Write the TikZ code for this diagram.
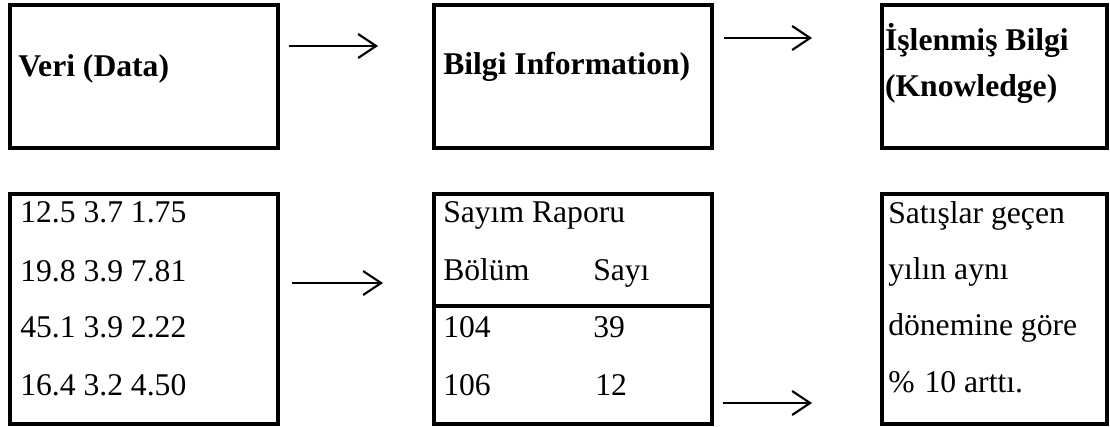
\documentclass[tikz,border=0pt]{standalone}
\usepackage{fontspec}
\setmainfont{Liberation Serif}
\usetikzlibrary{arrows.meta}

\begin{document}
\begin{tikzpicture}[
		kutu/.style={draw, line width=2.5pt, inner sep=0pt, anchor=north west},
		yazi/.style={inner sep=0pt, anchor=base west, font=\fontsize{22.5}{27}\selectfont},
		okcizgi/.style={line width=1.5pt, -{Straight Barb[length=0.45cm, width=0.6cm, line width=1.5pt]}}
	]
		
		\useasboundingbox (0,0) rectangle (27.75,-10.65);
		
		% ust sira
		\node[kutu, minimum width=6.7cm, minimum height=3.575cm] (veri) at (0.2,-0.075) {};
		\node[kutu, minimum width=6.95cm, minimum height=3.575cm] (bilgi) at (10.8,-0.075) {};
		\node[kutu, minimum width=5.625cm, minimum height=3.575cm] (islenmis) at (22.0,-0.075) {};
		
		\node[yazi] (veriad) at (0.45,-1.9) {\textbf{Veri (Data)}};
		\node[yazi] (bilgiad) at (11.075,-1.85) {\textbf{Bilgi Information)}};
		\node[yazi] (islenmisad1) at (22.12,-1.25) {\textbf{İşlenmiş Bilgi}};
		\node[yazi] (islenmisad2) at (22.12,-2.42) {\textbf{(Knowledge)}};
		
		% alt sira
		\node[kutu, minimum width=6.7cm, minimum height=5.75cm] (sayilar) at (0.2,-4.8) {};
		\node[kutu, minimum width=6.95cm, minimum height=5.75cm] (rapor) at (10.8,-4.8) {};
		\node[kutu, minimum width=5.625cm, minimum height=5.75cm] (sonuc) at (22.0,-4.8) {};
		
		\coordinate (ayracsol) at (10.8,-7.65);
		\coordinate (ayracsag) at (17.75,-7.65);
		\draw[line width=2.5pt] (ayracsol) -- (ayracsag);
		
		\node[yazi] (s1) at (0.5,-5.55) {12.5 3.7 1.75};
		\node[yazi] (s2) at (0.5,-7.025) {19.8 3.9 7.81};
		\node[yazi] (s3) at (0.5,-8.425) {45.1 3.9 2.22};
		\node[yazi] (s4) at (0.5,-9.875) {16.4 3.2 4.50};
		
		\node[yazi] (r1) at (11.075,-5.55) {Sayım Raporu};
		\node[yazi] (r2) at (11.075,-7.0) {Bölüm};
		\node[yazi] (r3) at (14.825,-7.0) {Sayı};
		\node[yazi] (r4) at (11.075,-8.425) {104};
		\node[yazi] (r5) at (14.825,-8.425) {39};
		\node[yazi] (r6) at (11.075,-9.875) {106};
		\node[yazi] (r7) at (14.875,-9.875) {12};
		
		\node[yazi] (c1) at (22.2,-5.575) {Satışlar geçen};
		\node[yazi] (c2) at (22.2,-6.975) {yılın aynı};
		\node[yazi] (c3) at (22.2,-8.375) {dönemine göre};
		\node[yazi] (c4) at (22.2,-9.8) {\%\hspace{0.25cm}10 arttı.};
		
		% oklar
		\coordinate (o1a) at (7.225,-1.15);
		\coordinate (o1b) at (9.45,-1.15);
		\coordinate (o2a) at (18.1,-0.95);
		\coordinate (o2b) at (20.3,-0.95);
		\coordinate (o3a) at (7.3,-7.075);
		\coordinate (o3b) at (9.575,-7.075);
		\coordinate (o4a) at (18.075,-10.075);
		\coordinate (o4b) at (20.3,-10.075);
		
		\draw[okcizgi] (o1a) -- (o1b);
		\draw[okcizgi] (o2a) -- (o2b);
		\draw[okcizgi] (o3a) -- (o3b);
		\draw[okcizgi] (o4a) -- (o4b);
	\end{tikzpicture}
\end{document}
